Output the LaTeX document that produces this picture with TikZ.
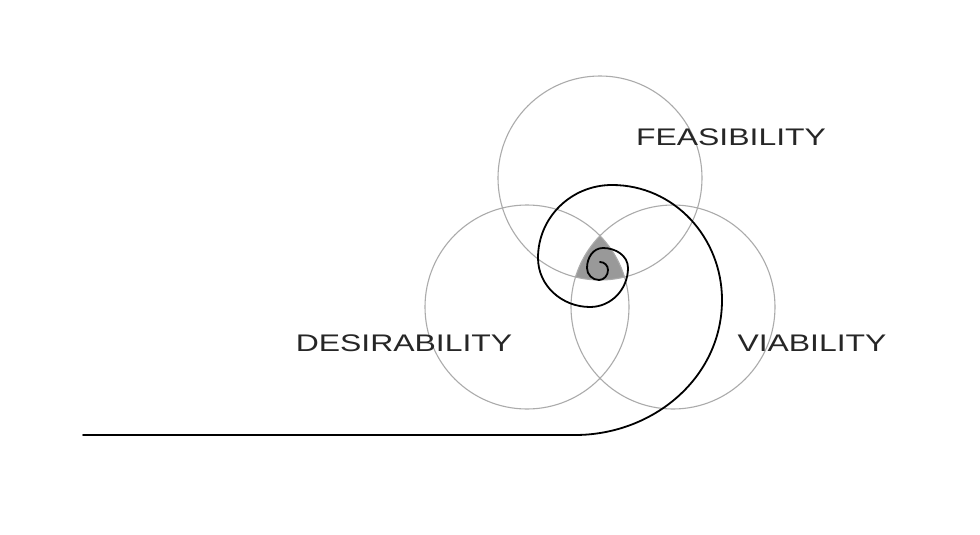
\documentclass[tikz,border=0pt]{standalone}
\usepackage{fontspec}
\setmainfont{Liberation Sans}
\begin{document}
\begin{tikzpicture}[x=1pt,y=1pt,
  ring/.style={draw=black!33,line width=1.1pt},
  lbl/.style={font=\fontsize{24}{24}\selectfont,inner sep=0pt,text=black!85},
  spiral/.style={draw=black,line width=1.8pt,line cap=round}]
\useasboundingbox[fill=white] (0,0) rectangle (980,-535);
\coordinate (ct) at (600,-178);
\coordinate (cl) at (527,-307);
\coordinate (cr) at (673,-307);
\begin{scope}
  \clip (ct) circle (102);
  \clip (cl) circle (102);
  \fill[black!40] (cr) circle (102);
\end{scope}
\draw[ring] (ct) circle (102);
\draw[ring] (cl) circle (102);
\draw[ring] (cr) circle (102);
\node[lbl] (fea) at (731,-137) {\scalebox{1.33}[1]{FEASIBILITY}};
\node[lbl] (des) at (404,-343) {\scalebox{1.33}[1]{DESIRABILITY}};
\node[lbl] (via) at (812,-343) {\scalebox{1.33}[1]{VIABILITY}};
\coordinate (s0) at (83,-435);
\coordinate (p0) at (575,-435);
\coordinate (p1) at (722,-300);
\coordinate (p2) at (612,-185);
\coordinate (p3) at (538,-258);
\coordinate (p4) at (590,-307);
\coordinate (p5) at (628,-268);
\coordinate (p6) at (603,-248);
\coordinate (p7) at (587,-268);
\coordinate (p8) at (599,-280);
\coordinate (p9) at (608,-270);
\coordinate (p10) at (600,-262);
\draw[spiral] (s0) -- (p0) to[out=0,in=-90] (p1) to[out=90,in=0] (p2)
  to[out=180,in=90] (p3) to[out=-90,in=180] (p4) to[out=0,in=-90] (p5)
  to[out=90,in=0] (p6) to[out=180,in=90] (p7) to[out=-90,in=180] (p8)
  to[out=0,in=-90] (p9) to[out=90,in=0] (p10);
\end{tikzpicture}
\end{document}
